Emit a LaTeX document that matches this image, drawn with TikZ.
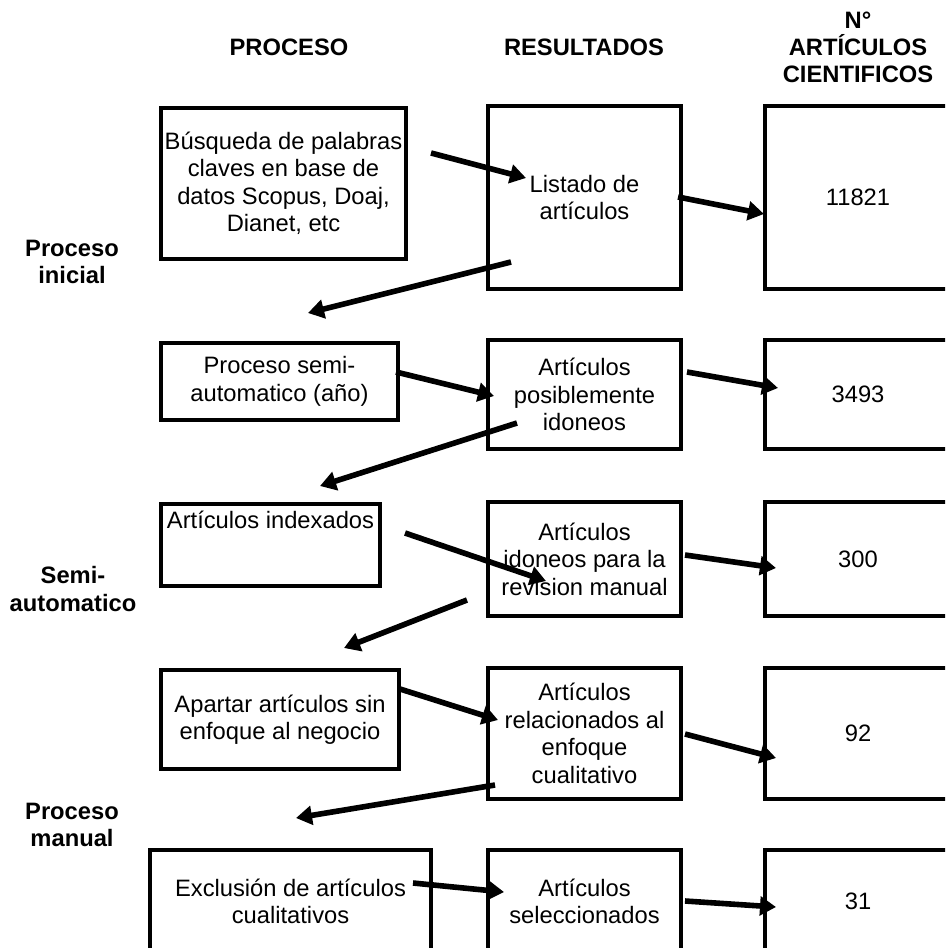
\documentclass[tikz,border=0pt]{standalone}
\usepackage{fontspec}
\setmainfont{Liberation Sans}
\usetikzlibrary{arrows.meta}
\tikzset{
  box/.style={draw=black, line width=2.4pt, inner sep=0pt, align=center,
    font=\fontsize{17.8pt}{20.6pt}\selectfont},
  bw/.style={minimum width={#1*0.75pt}},
  bh/.style={minimum height={#1*0.75pt}},
  txt/.style={inner sep=0pt, align=center, font=\fontsize{17.8pt}{20.6pt}\selectfont},
  hdr/.style={inner sep=0pt, align=center, font=\bfseries\fontsize{17.8pt}{20.3pt}\selectfont},
  flow/.style={line width=4.2pt, -{Triangle[length=12pt,width=14pt]}}
}
\begin{document}
\begin{tikzpicture}[x=0.75pt,y=-0.75pt]
\path[use as bounding box] (0,0) rectangle (945,948);
\clip (0,0) rectangle (945,948);
\fill[white] (0,0) rectangle (945,948);
% headers
\node[hdr] (h1) at (289,47) {PROCESO};
\node[hdr] (h2) at (584,47) {RESULTADOS};
\node[hdr] (h3) at (858,47) {N°\\ARTÍCULOS\\CIENTIFICOS};
% side labels
\node[hdr] (s1) at (72,262) {Proceso\\inicial};
\node[hdr] (s2) at (73,589) {Semi-\\automatico};
\node[hdr] (s3) at (72,825) {Proceso\\manual};
% row 1
\node[box, bw=245, bh=151] (b11) at (283.5,183.5) {Búsqueda de palabras\\claves en base de\\datos Scopus, Doaj,\\Dianet, etc};
\node[box, bw=193, bh=183] (b12) at (584.5,197.5) {Listado de\\artículos};
\node[box, bw=186, bh=183] (b13) at (858,197.5) {11821};
% row 2
\node[box, bw=237, bh=77] (b21) at (279.5,381.5) {Proceso semi-\\automatico (año)};
\node[box, bw=193, bh=109] (b22) at (584.5,394.5) {Artículos\\posiblemente\\idoneos};
\node[box, bw=186, bh=109] (b23) at (858,394.5) {3493};
% row 3
\node[box, bw=219, bh=82] (b31) at (270.5,545) {};
\node[txt] (t31) at (270.5,520) {Artículos indexados};
\node[box, bw=193, bh=114] (b32) at (584.5,559) {Artículos\\idoneos para la\\revision manual};
\node[box, bw=186, bh=114] (b33) at (858,559) {300};
% row 4
\node[box, bw=238, bh=99] (b41) at (280,719.5) {Apartar artículos sin\\enfoque al negocio};
\node[box, bw=193, bh=131] (b42) at (584.5,733.5) {Artículos\\relacionados al\\enfoque\\cualitativo};
\node[box, bw=186, bh=131] (b43) at (858,733.5) {92};
% row 5
\node[box, bw=281, bh=103] (b51) at (290.5,901.5) {Exclusión de artículos\\cualitativos};
\node[box, bw=193, bh=103] (b52) at (584.5,901.5) {Artículos\\seleccionados};
\node[box, bw=186, bh=103] (b53) at (858,901.5) {31};
% arrow end points
\coordinate (a1s) at (431,153); \coordinate (a1e) at (526,178);
\coordinate (a2s) at (678,197); \coordinate (a2e) at (764,214);
\coordinate (d1s) at (511,262); \coordinate (d1e) at (308,313);
\coordinate (a3s) at (396,372); \coordinate (a3e) at (494,396);
\coordinate (a4s) at (687,372); \coordinate (a4e) at (778,388);
\coordinate (d2s) at (517,423); \coordinate (d2e) at (320,486);
\coordinate (a5s) at (405,533); \coordinate (a5e) at (546,581);
\coordinate (a6s) at (685,555); \coordinate (a6e) at (776,568);
\coordinate (d3s) at (467,600); \coordinate (d3e) at (344,648);
\coordinate (a7s) at (400,689); \coordinate (a7e) at (498,720);
\coordinate (a8s) at (685,734); \coordinate (a8e) at (776,758);
\coordinate (d4s) at (495,785); \coordinate (d4e) at (296,818);
\coordinate (a9s) at (413,883); \coordinate (a9e) at (504,892);
\coordinate (a10s) at (685,901); \coordinate (a10e) at (776,907);
\foreach \p in {a1,a2,d1,a3,a4,d2,a5,a6,d3,a7,a8,d4,a9,a10}
  \draw[flow] (\p s) -- (\p e);
\end{tikzpicture}
\end{document}
